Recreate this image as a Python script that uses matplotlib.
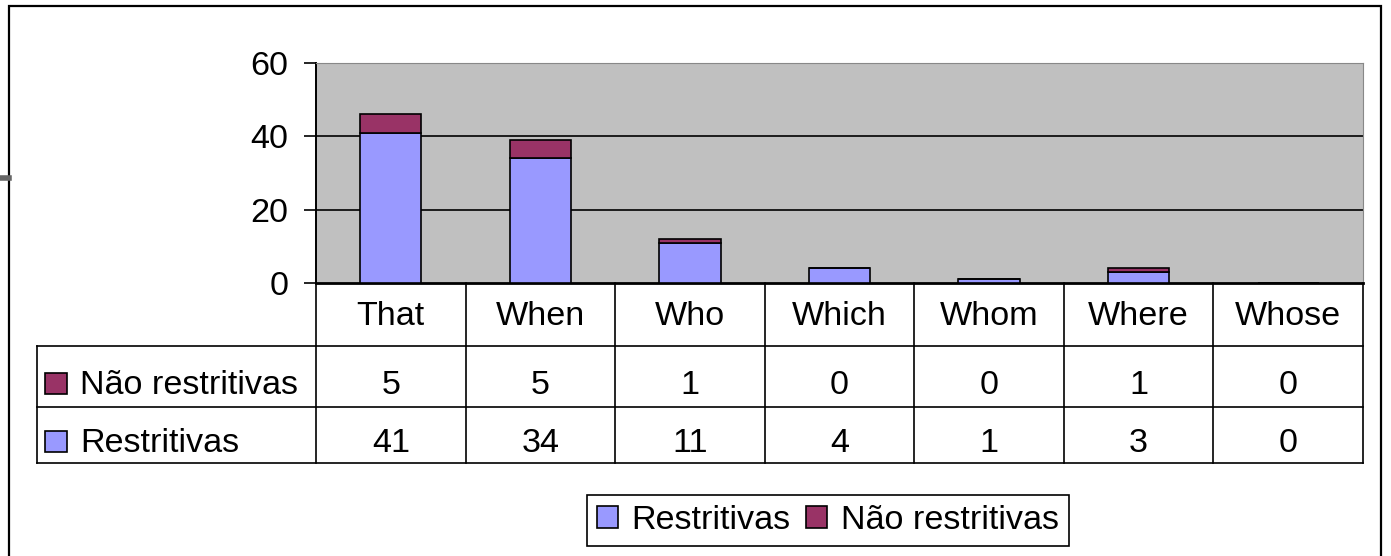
import matplotlib
matplotlib.use('Agg')
import matplotlib.pyplot as plt
from matplotlib.patches import Rectangle
from matplotlib.lines import Line2D

plt.rcParams['font.family'] = ['Liberation Sans', 'DejaVu Sans']

categories = ['That', 'When', 'Who', 'Which', 'Whom', 'Where', 'Whose']
restritivas = [41, 34, 11, 4, 1, 3, 0]
nao_restritivas = [5, 5, 1, 0, 0, 1, 0]
yticks = [0, 20, 40, 60]

blue = '#9999FF'
maroon = '#993366'
gray = '#C0C0C0'
fs = 24.6

W, H = 1391, 556
fig = plt.figure(figsize=(W / 100, H / 100), dpi=100)

# outer frame + little mark on the left
fig.add_artist(Rectangle((9 / W, -0.1), (1381 - 9) / W, 1.1 - 6 / H, transform=fig.transFigure,
                         fill=False, edgecolor='black', lw=1.6))
fig.add_artist(Line2D([0, 9 / W], [1 - 178 / H, 1 - 178 / H], transform=fig.transFigure,
                      color='#666666', lw=4))

ax = fig.add_axes([316 / W, 1 - 283 / H, (1363 - 316) / W, (283 - 63) / H])
ax.set_facecolor(gray)
x = list(range(len(categories)))
ax.bar(x, restritivas, width=0.41, color=blue, edgecolor='black', lw=1.2, zorder=3)
ax.bar(x, nao_restritivas, width=0.41, bottom=restritivas, color=maroon, edgecolor='black', lw=1.2, zorder=3)
ax.set_xlim(-0.5, len(categories) - 0.5)
ax.set_ylim(0, 60)
ax.set_yticks(yticks)
ax.set_yticklabels([str(v) for v in yticks], fontsize=fs)
ax.tick_params(axis='y', length=9, width=1.2, pad=11, color='black', direction='out')
ax.set_xticks([])
for v in yticks[1:-1]:
    ax.axhline(v, color='black', lw=1.2, zorder=1)
ax.spines['left'].set_linewidth(1.4)
ax.spines['bottom'].set_linewidth(2)
ax.spines['top'].set_color('#888888')
ax.spines['right'].set_color('#888888')

# data table under the plot
tr = ax.get_xaxis_transform()
ph = 283 - 63
def ay(py):
    return (283 - py) / ph

left = -0.5 + (37 - 316) / ((1363 - 316) / len(categories))
colw = (1363 - 316) / len(categories)
rows_y = [ay(346), ay(407), ay(463)]
for i in range(len(categories) + 1):
    ax.plot([i - 0.5, i - 0.5], [0, rows_y[-1]], transform=tr, color='black', lw=1.2, clip_on=False)
ax.plot([left, left], [rows_y[0], rows_y[-1]], transform=tr, color='black', lw=1.2, clip_on=False)
for yy in rows_y:
    ax.plot([left, len(categories) - 0.5], [yy, yy], transform=tr, color='black', lw=1.2, clip_on=False)

for i, c in enumerate(categories):
    ax.text(i, ay(325), c, transform=tr, ha='center', va='baseline', fontsize=fs)
    ax.text(i, ay(394), str(nao_restritivas[i]), transform=tr, ha='center', va='baseline', fontsize=fs)
    ax.text(i, ay(452), str(restritivas[i]), transform=tr, ha='center', va='baseline', fontsize=fs)

sq_x = -0.5 + (45 - 316) / colw
sq_w = 22 / colw
for label, col, base in [('Não restritivas', maroon, 394), ('Restritivas', blue, 452)]:
    ax.add_patch(Rectangle((sq_x, ay(base)), sq_w, 21 / ph, transform=tr, facecolor=col,
                           edgecolor='black', lw=1.2, clip_on=False))
    ax.text(-0.5 + (80 - 316) / colw, ay(base), label, transform=tr, ha='left', va='baseline', fontsize=fs)

handles = [Rectangle((0, 0), 1, 1, facecolor=blue, edgecolor='black', lw=1.2),
           Rectangle((0, 0), 1, 1, facecolor=maroon, edgecolor='black', lw=1.2)]
leg = fig.legend(handles, ['Restritivas', 'Não restritivas'], loc='center',
                 bbox_to_anchor=((589 + 1067) / 2 / W, 1 - (492 + 549) / 2 / H),
                 ncol=2, fontsize=fs, frameon=True, fancybox=False, edgecolor='black',
                 framealpha=1, handlelength=0.62, handleheight=0.62, handletextpad=0.4,
                 columnspacing=0.45, borderpad=0.3, borderaxespad=0)
leg.get_frame().set_linewidth(1.2)

fig.savefig('out.png', dpi=100)
